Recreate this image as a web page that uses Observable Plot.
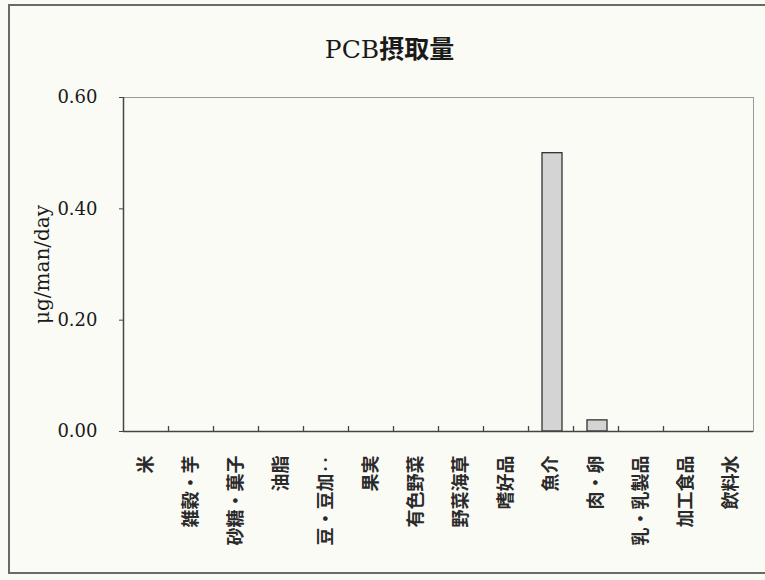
<!DOCTYPE html>
<html>
<head>
<meta charset="utf-8">
<script src="https://cdn.jsdelivr.net/npm/d3@7"></script>
<script src="https://cdn.jsdelivr.net/npm/@observablehq/plot@0.6"></script>
<style>
  html, body { margin: 0; padding: 0; background: #fbfbf6; }
  body { width: 765px; height: 580px; position: relative; overflow: hidden; }
  #border {
    position: absolute; left: 8px; top: 4px; width: 790px; height: 570px;
    border: 2px solid #6a6a6a; box-sizing: border-box; pointer-events: none;
  }
  #title {
    position: relative; height: 37px; padding-top: 33px; line-height: 28px;
    text-align: center; padding-left: 14px;
    font-family: "DejaVu Serif", "Noto Sans CJK JP", serif; font-size: 25px; color: #1a1a1a;
  }
  #title .ja { font-family: "Noto Sans CJK JP", sans-serif; font-weight: bold; }
  #chart { position: relative; }
</style>
</head>
<body>
<div id="border"></div>
<div id="title">PCB<span class="ja">摂取量</span></div>
<div id="chart"></div>
<script>
// Food groups and their PCB intake (μg/man/day)
const categories = ["米", "雑穀・芋", "砂糖・菓子", "油脂", "豆・豆加‥", "果実", "有色野菜", "野菜海草", "嗜好品", "魚介", "肉・卵", "乳・乳製品", "加工食品", "飲料水"];
const values = [0, 0, 0, 0, 0, 0, 0, 0, 0, 0.50, 0.02, 0, 0, 0];
const yTicks = [0, 0.2, 0.4, 0.6];
const yLabel = "μg/man/day";

const rows = categories.map((category, i) => ({category, value: values[i]}));

const width = 765, height = 510;
const marginLeft = 123, marginRight = 12, marginTop = 27, marginBottom = 149;
const halfBand = (width - marginLeft - marginRight) / categories.length / 2;
const serif = "DejaVu Serif, Noto Sans CJK JP, serif";

const chart = Plot.plot({
  width, height, marginLeft, marginRight, marginTop, marginBottom,
  style: {background: "transparent", fontFamily: serif, color: "#1a1a1a"},
  x: {domain: categories, padding: 0},
  y: {domain: [0, 0.6]},
  marks: [
    Plot.frame({stroke: "#9a9a9a"}),
    Plot.barY(rows, {x: "category", y: "value", fill: "#d4d4d4", stroke: "#333", strokeWidth: 1.3, insetLeft: 12.5, insetRight: 12.5, dx: 1.5}),
    // category separator ticks rising from the baseline
    Plot.ruleX(categories.slice(1), {x: d => d, y1: 0, insetTop: -5, dx: -halfBand, stroke: "#444", strokeWidth: 1.3}),
    Plot.ruleX([categories[0]], {dx: -halfBand, stroke: "#444", strokeWidth: 1.5}),
    Plot.ruleY([0], {stroke: "#444", strokeWidth: 1.5}),
    Plot.axisY({ticks: yTicks, tickFormat: d3.format(".2f"), tickSize: 4, tickPadding: 22, fontSize: 18, label: null, stroke: "#444"}),
    Plot.axisX({tickRotate: -90, tickSize: 0, tickPadding: 24, fontSize: 18, fontWeight: "bold", label: null,
                fontFamily: "Noto Sans CJK JP, sans-serif", fill: "#2a2a2a"}),
    Plot.text([yLabel], {frameAnchor: "left", textAnchor: "middle", dx: -81, rotate: -90, fontSize: 20, fill: "#1a1a1a"})
  ]
});
document.getElementById("chart").append(chart);
</script>
</body>
</html>
